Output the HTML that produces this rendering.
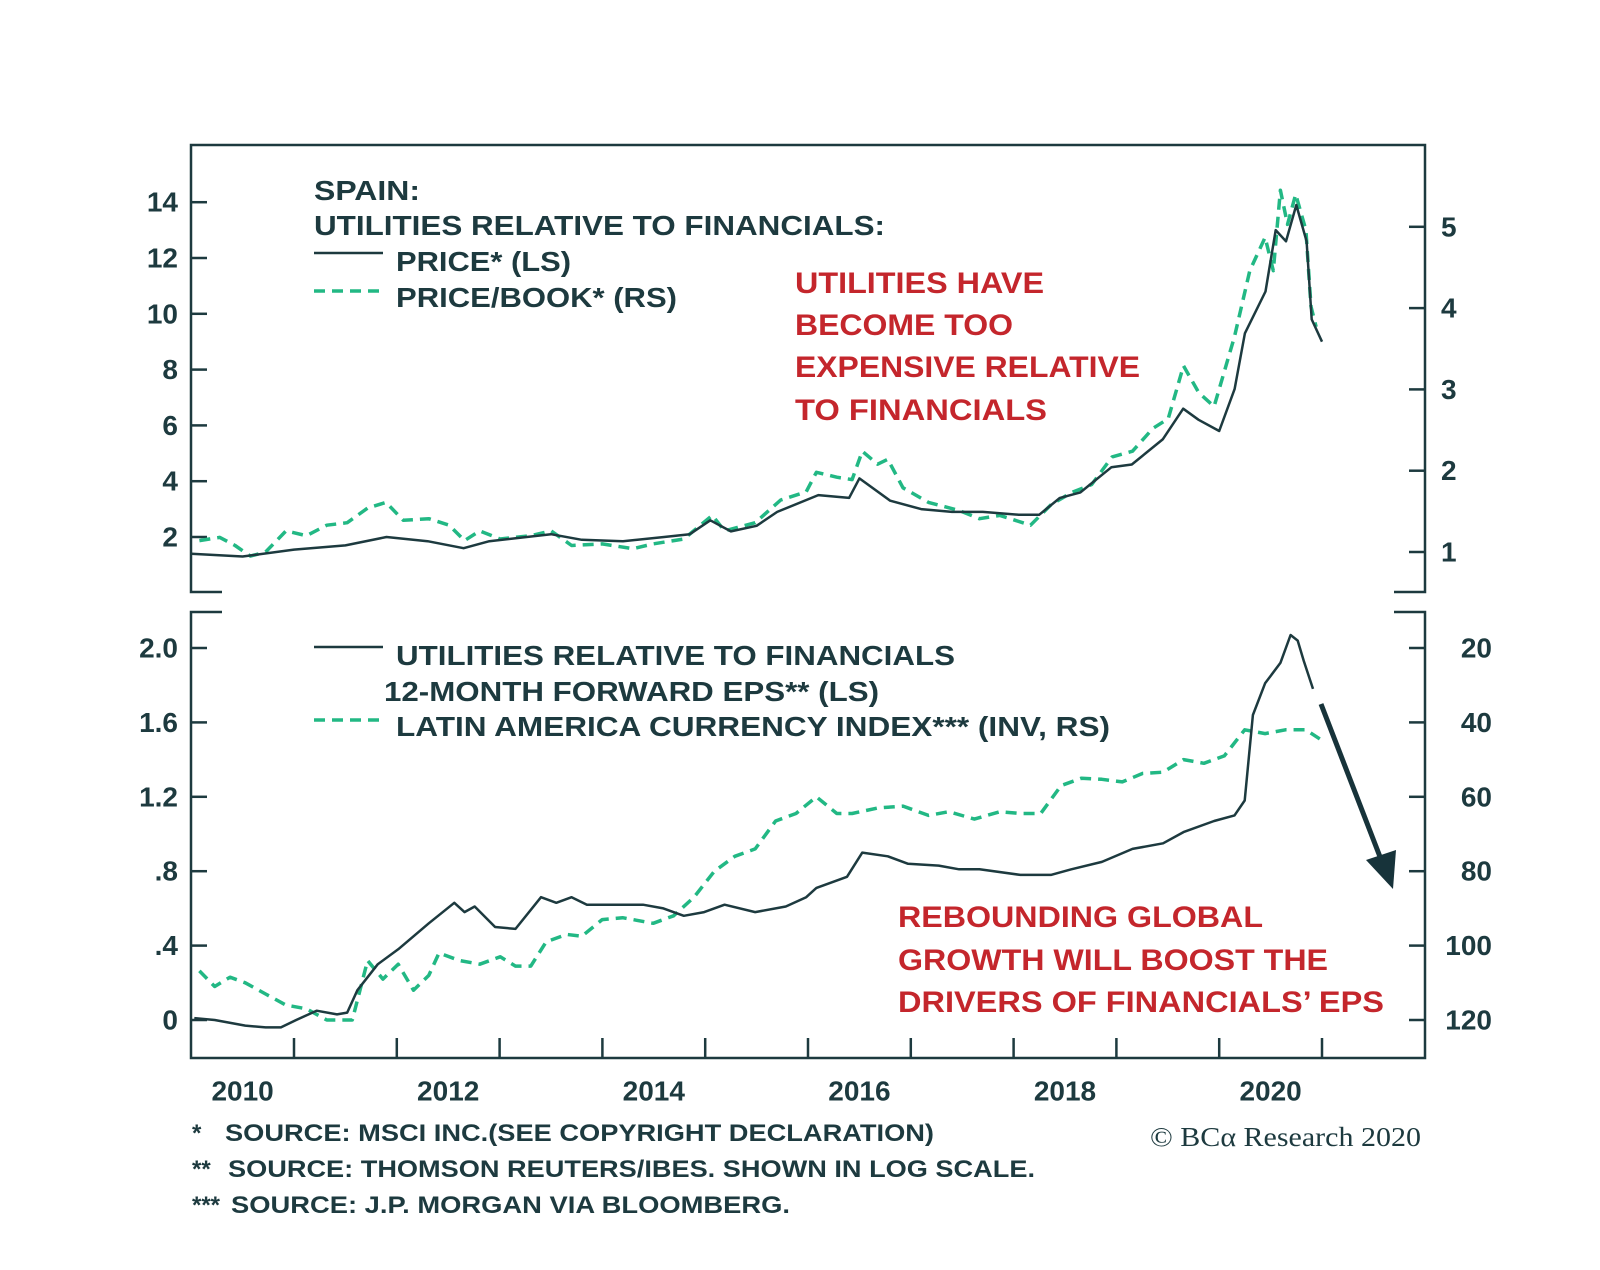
<!DOCTYPE html>
<html><head><meta charset="utf-8">
<style>
html,body{margin:0;padding:0;background:#fff;}
svg{display:block;font-family:"Liberation Sans",Arial,sans-serif;font-weight:bold;}
</style></head>
<body>
<svg id="chart" width="1600" height="1270" viewBox="0 0 1600 1270" xmlns="http://www.w3.org/2000/svg">
<g id="frames" stroke="#1d3a3f" stroke-width="2.5" fill="none">
 <path d="M222,592 L191,592 L191,145 L1425,145 L1425,592 L1394,592"/>
 <path d="M222,612 L191,612 L191,1058 L1425,1058 L1425,612 L1394,612"/>
</g>
<g id="axes"></g>
<g id="series"></g>
<g fill="#1d3a3f" font-size="28">
 <text x="314" y="200" textLength="106" lengthAdjust="spacingAndGlyphs">SPAIN:</text>
 <text x="314" y="235" textLength="571" lengthAdjust="spacingAndGlyphs">UTILITIES RELATIVE TO FINANCIALS:</text>
 <line x1="314" y1="253" x2="383" y2="253" stroke="#1d3a3f" stroke-width="2.5"/>
 <text x="396" y="271" textLength="175" lengthAdjust="spacingAndGlyphs">PRICE* (LS)</text>
 <line x1="314" y1="291" x2="383" y2="291" stroke="#22b884" stroke-width="3.5" stroke-dasharray="11,7"/>
 <text x="396" y="307" textLength="281" lengthAdjust="spacingAndGlyphs">PRICE/BOOK* (RS)</text>
</g>
<g fill="#c4262c" font-size="30">
 <text x="795" y="293" textLength="249" lengthAdjust="spacingAndGlyphs">UTILITIES HAVE</text>
 <text x="795" y="335" textLength="218" lengthAdjust="spacingAndGlyphs">BECOME TOO</text>
 <text x="795" y="377" textLength="345" lengthAdjust="spacingAndGlyphs">EXPENSIVE RELATIVE</text>
 <text x="795" y="420" textLength="252" lengthAdjust="spacingAndGlyphs">TO FINANCIALS</text>
</g>
<g fill="#1d3a3f" font-size="28">
 <line x1="314" y1="647" x2="383" y2="647" stroke="#1d3a3f" stroke-width="2.5"/>
 <text x="396" y="665" textLength="559" lengthAdjust="spacingAndGlyphs">UTILITIES RELATIVE TO FINANCIALS</text>
 <text x="384" y="701" textLength="495" lengthAdjust="spacingAndGlyphs">12-MONTH FORWARD EPS** (LS)</text>
 <line x1="314" y1="720" x2="383" y2="720" stroke="#22b884" stroke-width="3.5" stroke-dasharray="11,7"/>
 <text x="396" y="736" textLength="714" lengthAdjust="spacingAndGlyphs">LATIN AMERICA CURRENCY INDEX*** (INV, RS)</text>
</g>
<g fill="#c4262c" font-size="30">
 <text x="898" y="927" textLength="365" lengthAdjust="spacingAndGlyphs">REBOUNDING GLOBAL</text>
 <text x="898" y="970" textLength="430" lengthAdjust="spacingAndGlyphs">GROWTH WILL BOOST THE</text>
 <text x="898" y="1012" textLength="486" lengthAdjust="spacingAndGlyphs">DRIVERS OF FINANCIALS’ EPS</text>
</g>
<g>
 <line x1="1321" y1="704" x2="1382" y2="862" stroke="#17333a" stroke-width="5"/>
 <polygon points="1393,889 1366,860 1396,850" fill="#17333a"/>
</g>
<g fill="#1d3a3f" font-size="24">
 <text x="192" y="1141">*</text>
 <text x="225" y="1141" textLength="709" lengthAdjust="spacingAndGlyphs">SOURCE: MSCI INC.(SEE COPYRIGHT DECLARATION)</text>
 <text x="192" y="1177">**</text>
 <text x="228" y="1177" textLength="807" lengthAdjust="spacingAndGlyphs">SOURCE: THOMSON REUTERS/IBES. SHOWN IN LOG SCALE.</text>
 <text x="192" y="1213">***</text>
 <text x="231" y="1213" textLength="559" lengthAdjust="spacingAndGlyphs">SOURCE: J.P. MORGAN VIA BLOOMBERG.</text>
 <text x="1150" y="1146" textLength="271" lengthAdjust="spacingAndGlyphs" font-family="Liberation Serif, serif" font-weight="normal" font-size="27">© BCα Research 2020</text>
</g>
</svg>
<script>
// ---- data ----
const priceYears = [2010.0,2010.5,2011.0,2011.5,2011.9,2012.3,2012.65,2012.9,2013.5,2013.8,2014.2,2014.6,2014.85,2015.05,2015.25,2015.5,2015.7,2016.1,2016.4,2016.5,2016.8,2017.1,2017.4,2017.7,2018.05,2018.25,2018.45,2018.65,2018.95,2019.15,2019.45,2019.65,2019.8,2020.0,2020.15,2020.25,2020.45,2020.55,2020.65,2020.75,2020.85,2020.9,2021.0];
const priceVals  = [1.4,1.3,1.55,1.7,2.0,1.85,1.6,1.85,2.1,1.9,1.85,2.0,2.1,2.6,2.2,2.4,2.9,3.5,3.4,4.1,3.3,3.0,2.9,2.9,2.8,2.8,3.4,3.6,4.5,4.6,5.5,6.6,6.2,5.8,7.3,9.3,10.8,13.0,12.6,13.9,12.6,9.8,9.0];
const pbX = [195,215,230,245,260,280,300,320,340,360,378,395,420,440,455,470,490,520,540,560,590,620,640,670,698,710,740,765,790,800,820,835,845,860,870,885,910,940,960,980,1010,1030,1050,1070,1090,1110,1130,1145,1160,1175,1190,1210,1225,1240,1248,1255,1262,1270,1280,1285,1290];
const pbVals = [1.14,1.18,1.08,0.95,1.0,1.26,1.2,1.33,1.36,1.54,1.61,1.39,1.41,1.33,1.14,1.26,1.16,1.2,1.26,1.08,1.1,1.04,1.1,1.16,1.45,1.26,1.36,1.64,1.74,1.98,1.92,1.89,2.24,2.08,2.14,1.79,1.61,1.51,1.41,1.45,1.33,1.58,1.73,1.83,2.17,2.24,2.52,2.64,3.29,2.96,2.79,3.65,4.46,4.87,4.46,5.45,5.03,5.40,4.96,4.02,3.77];
const epsX = [190,210,240,260,275,290,310,330,340,350,370,390,420,445,455,465,485,505,530,545,560,575,600,630,650,670,690,710,740,770,790,800,830,845,870,890,920,940,960,1000,1030,1050,1080,1110,1140,1160,1190,1210,1220,1228,1240,1255,1265,1272,1278,1287];
const epsVals = [0.01,0,-0.03,-0.04,-0.04,0,0.05,0.03,0.04,0.16,0.3,0.38,0.52,0.63,0.58,0.61,0.5,0.49,0.66,0.63,0.66,0.62,0.62,0.62,0.6,0.56,0.58,0.62,0.58,0.61,0.66,0.71,0.77,0.9,0.88,0.84,0.83,0.81,0.81,0.78,0.78,0.81,0.85,0.92,0.95,1.01,1.07,1.1,1.18,1.64,1.81,1.92,2.07,2.04,1.93,1.78];
const curX = [195,210,225,240,260,280,300,320,345,360,375,390,405,420,430,450,470,490,505,520,535,555,570,590,610,640,660,680,700,720,740,760,780,800,820,835,860,885,910,930,955,980,1000,1020,1040,1060,1080,1100,1120,1140,1160,1180,1200,1220,1240,1260,1280,1295];
const curVals = [106.8,111,108.5,110,113,116,117,120,120,104,109,105,112,108,102,104,105,103,105.5,105.5,99,97,97.5,93,92.5,94,92,87,80,76,74,66.5,64.5,60,64.5,64.5,63,62.5,65,64,66,64,64.5,64.5,57,55,55.3,56,53.7,53.4,50,51,49,42,43,42,42,44.7];
const leftTopTicks = [2,4,6,8,10,12,14];
const rightTopTicks = [1,2,3,4,5];
const leftBotTicks = [0,0.4,0.8,1.2,1.6,2.0];
const leftBotLabels = ["0",".4",".8","1.2","1.6","2.0"];
const rightBotTicks = [20,40,60,80,100,120];
const yearLabels = [2010,2012,2014,2016,2018,2020];

// ---- scales ----
const xYear = y => 294 + (y - 2011) * 102.8;
const xDisp = px => xYear(2010 + (px - 187) / 100.8);
const yTopL = v => 537 - (v - 2) * 27.9;
const yTopR = v => 552 - (v - 1) * 81.3;
const yBotL = v => 1020 - v * 186;
const yBotR = v => 648 + (v - 20) * 3.72;

const NS = "http://www.w3.org/2000/svg";
const axes = document.getElementById('axes');
const series = document.getElementById('series');
function mk(tag, attrs, parent){const e=document.createElementNS(NS,tag);for(const k in attrs)e.setAttribute(k,attrs[k]);parent.appendChild(e);return e;}
function txt(x,y,s,anchor,parent){const t=mk('text',{x:x,y:y,'text-anchor':anchor,'font-size':28,fill:'#1d3a3f','dominant-baseline':'central'},parent);t.textContent=s;return t;}

leftTopTicks.forEach(v=>{const y=yTopL(v);
 const l=mk('line',{x1:191,x2:207,y1:y,y2:y,stroke:'#1d3a3f','stroke-width':2.5},axes);
 
 
 const t=txt(178,y,String(v),'end',axes);
 
 });
rightTopTicks.forEach(v=>{const y=yTopR(v);
 const l=mk('line',{x1:1409,x2:1425,y1:y,y2:y,stroke:'#1d3a3f','stroke-width':2.5},axes);
 
 
 const t=txt(1441,y,String(v),'start',axes);
 
 });
leftBotTicks.forEach((v,i)=>{const y=yBotL(v);
 const l=mk('line',{x1:191,x2:207,y1:y,y2:y,stroke:'#1d3a3f','stroke-width':2.5},axes);
 
 
 const t=txt(178,y,leftBotLabels[i],'end',axes);
 
 });
rightBotTicks.forEach(v=>{const y=yBotR(v);
 const l=mk('line',{x1:1409,x2:1425,y1:y,y2:y,stroke:'#1d3a3f','stroke-width':2.5},axes);
 
 
 const t=txt(1492,y,String(v),'end',axes);
 
 });
for(let yr=2011; yr<=2021; yr++){const x=xYear(yr);
 const l=mk('line',{x1:x,x2:x,y1:1038,y2:1058,stroke:'#1d3a3f','stroke-width':2.5},axes);
 
 }
yearLabels.forEach(yr=>{const t=txt(xYear(yr+0.5),1091,String(yr),'middle',axes);
 
 });

function path(xs, ys, style, name){
 const d = xs.map((x,i)=>(i?'L':'M')+x.toFixed(1)+','+ys[i].toFixed(1)).join(' ');
 const p = mk('path',Object.assign({d:d,fill:'none','stroke-linejoin':'round'},style),series);
 
 
}
const solid = {stroke:'#1d3a3f','stroke-width':2.5};
const dash = {stroke:'#22b884','stroke-width':3.5,'stroke-dasharray':'11,7'};
path(pbX.map(xDisp), pbVals.map(yTopR), dash, 'price-book-line');
path(priceYears.map(xYear), priceVals.map(yTopL), solid, 'price-line');
path(curX.map(xDisp), curVals.map(yBotR), dash, 'currency-index-line');
path(epsX.map(xDisp), epsVals.map(yBotL), solid, 'eps-line');
</script>
</body></html>
